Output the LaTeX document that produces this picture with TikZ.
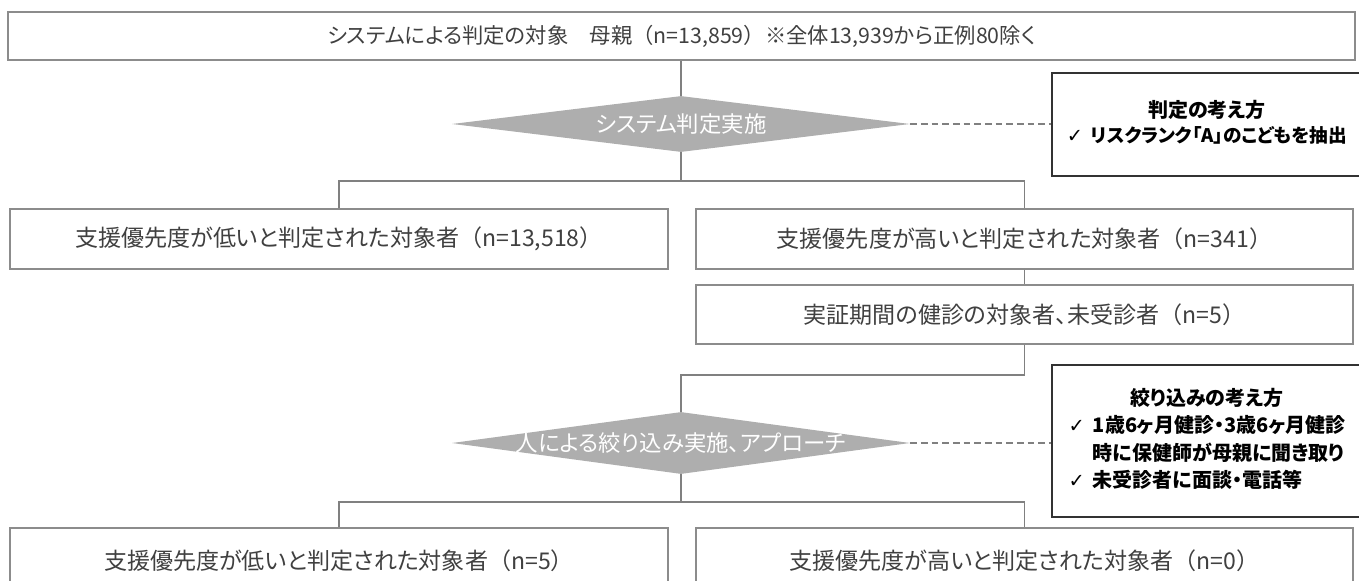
\documentclass[tikz,border=0pt]{standalone}
\usepackage{fontspec}
\setmainfont{Noto Sans CJK JP}[RawFeature=+palt]
\newfontfamily\jpfw{Noto Sans CJK JP}
\newfontfamily\checkfont{DejaVu Sans}
\usetikzlibrary{shapes.geometric}
\definecolor{linegray}{RGB}{128,128,128}
\definecolor{boxline}{RGB}{140,140,140}
\definecolor{boxtext}{RGB}{64,64,64}
\definecolor{diafill}{RGB}{174,174,174}
\definecolor{callline}{RGB}{50,50,50}
\newcommand{\ck}{{\checkfont\mdseries\fontsize{14.5pt}{16pt}\selectfont ✓}}
\newcommand{\lp}{{\jpfw （}}
\newcommand{\rp}{{\jpfw ）}}
\begin{document}
\begin{tikzpicture}[x=0.75pt,y=-0.75pt,
  box/.style={draw=boxline, line width=1.1pt, fill=white, rectangle, inner sep=0pt,
    text=boxtext, font=\fontsize{17.3pt}{20pt}\selectfont},
  topbox/.style={box, font=\fontsize{16pt}{20pt}\selectfont},
  dia/.style={diamond, fill=diafill, draw=none, inner sep=0pt, minimum width=343.5pt},
  diatext/.style={text=white, font=\fontsize{16.8pt}{20pt}\selectfont, inner sep=0pt},
  callout/.style={draw=callline, line width=1.5pt, fill=white, inner sep=0pt,
    minimum width=232.5pt, font=\bfseries\fontsize{15pt}{20.5pt}\selectfont, text=black},
  conn/.style={draw=linegray, line width=1.3pt},
  dashconn/.style={draw=linegray, line width=1.1pt, dash pattern=on 5pt off 3pt}]
\useasboundingbox (0,0) rectangle (1359,581);
\clip (0,0) rectangle (1359,581);

% boxes
\node[topbox, minimum width=1010.25pt, minimum height=36pt] (top) at (681.5,36)
  {システムによる判定の対象　母親\lp n=13,859\rp ※全体13,939から正例80除く};
\node[dia, minimum height=42pt] (d1) at (681,124) {};
\node[diatext] (d1t) at (d1.center) {システム判定実施};
\node[callout, minimum height=77.25pt] (k1) at (1207,124.5)
  {\raisebox{-3pt}{\begin{tabular}{@{}c@{}}判定の考え方\\[-2pt]
   \ck\hspace{6pt}{\fontsize{14pt}{18pt}\selectfont リスクランク「A」のこどもを抽出}\end{tabular}}};

\node[box, minimum width=493.5pt, minimum height=45pt] (l1) at (339,239)
  {支援優先度が低いと判定された対象者\lp n=13,518\rp};
\node[box, minimum width=492.75pt, minimum height=45pt] (r1) at (1024.5,239)
  {支援優先度が高いと判定された対象者\lp n=341\rp};
\node[box, minimum width=492.75pt, minimum height=44.25pt] (c1) at (1024.5,314.5)
  {実証期間の健診の対象者、未受診者\lp n=5\rp};

\node[dia, minimum height=46.5pt] (d2) at (681,443) {};
\node[diatext] (d2t) at (d2.center) {人による絞り込み実施、アプローチ};
\node[callout, minimum height=114pt] (k2) at (1207,441)
  {\begin{tabular}{@{}l@{\hspace{6pt}}l@{}}
   \multicolumn{2}{c}{絞り込みの考え方}\\
   \ck & 1歳6ヶ月健診・3歳6ヶ月健診\\
       & 時に保健師が母親に聞き取り\\
   \ck & 未受診者に面談・電話等
   \end{tabular}};

\node[box, minimum width=493.5pt, minimum height=49.5pt] (l2) at (339,561)
  {支援優先度が低いと判定された対象者\lp n=5\rp};
\node[box, minimum width=492.75pt, minimum height=49.5pt] (r2) at (1024.5,561)
  {支援優先度が高いと判定された対象者\lp n=0\rp};

% junction points
\coordinate (j1) at (681,181);
\coordinate (j2) at (681,375);
\coordinate (j3) at (681,502);

% connectors
\draw[conn] (top.south -| d1.north) -- (d1.north);
\draw[conn] (d1.south) -- (j1);
\draw[conn] (l1.north) |- (j1) -| (r1.north);
\draw[conn] (r1.south) -- (c1.north);
\draw[conn] (c1.south) |- (j2) -- (d2.north);
\draw[conn] (d2.south) -- (j3);
\draw[conn] (l2.north) |- (j3) -| (r2.north);
\draw[dashconn] (d1.east) -- (d1.east -| k1.west);
\draw[dashconn] (d2.east) -- (d2.east -| k2.west);
\end{tikzpicture}
\end{document}
